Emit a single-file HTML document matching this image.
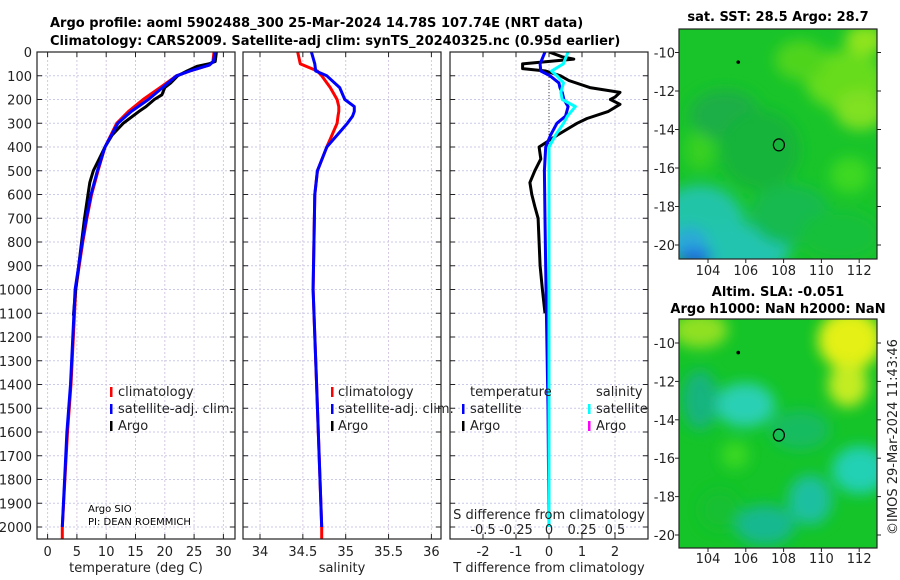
<!DOCTYPE html>
<html><head><meta charset="utf-8">
<style>
body{margin:0;background:#fff;}
svg{display:block;font-family:"DejaVu Sans","Liberation Sans",sans-serif;}
.t{font-size:13px;fill:#222;}
.b{font-size:13px;font-weight:bold;fill:#000;}
</style></head>
<body>
<svg id="fig" width="900" height="580" viewBox="0 0 900 580">
<defs>
<clipPath id="c1"><rect x="37" y="52" width="198" height="487"/></clipPath>
<clipPath id="c2"><rect x="243" y="52" width="198" height="487"/></clipPath>
<clipPath id="c3"><rect x="450" y="52" width="198" height="487"/></clipPath>
<clipPath id="m1"><rect x="679" y="29" width="198" height="230"/></clipPath>
<clipPath id="m2"><rect x="679" y="319" width="198" height="229"/></clipPath>
<filter id="bl" x="-50%" y="-50%" width="200%" height="200%"><feGaussianBlur stdDeviation="7"/></filter>
</defs>
<g id="grid"></g>
<g id="maps"></g>
<g id="series"></g>
<g id="axes"></g>
<g id="txt"></g>
</svg>
<script>
// ---- data ----
const depthTicks=[0,100,200,300,400,500,600,700,800,900,1000,1100,1200,1300,1400,1500,1600,1700,1800,1900,2000];
const tempTicks=[0,5,10,15,20,25,30];
const salTicks=[34,34.5,35,35.5,36];
const tdiffTicks=[-2,-1,0,1,2];
const sdiffTicks=[-0.5,-0.25,0,0.25,0.5];
const sdiffLabels=["-0.5","-0.25","0","0.25","0.5"];
const lonTicks=[104,106,108,110,112];
const latTicks=[-10,-12,-14,-16,-18,-20];

const climDepth=[0,40,55,80,100,150,200,250,300,400,500,600,700,800,900,1000,1400,1600,2000,2050];
const climTemp=[28.4,28.2,27.6,24.3,22,19.2,16.3,13.8,11.8,9.8,8.6,7.5,6.7,6.0,5.4,4.8,4.0,3.4,2.5,2.5];
const satTemp=[28.6,28.3,27.6,24.3,22,19.6,17.2,14.3,12,9.8,8.5,7.4,6.6,5.9,5.3,4.7,3.9,3.3,2.5,2.5];
const argoDepth=[0,40,50,60,80,100,130,150,180,200,230,250,300,350,400,450,500,550,600,700,800,900,1000,1110];
const argoTemp=[28.8,28.6,27.5,25.5,23.8,22.2,21,20,19.5,18.2,16.8,15.6,12.9,11,9.8,8.8,7.8,7.2,6.9,6.3,5.8,5.3,4.8,4.4];

const salDepth=[0,50,80,100,150,200,230,250,270,300,400,500,600,1000,1400,2000,2050];
const climSal=[34.44,34.47,34.67,34.72,34.82,34.9,34.92,34.92,34.91,34.9,34.78,34.67,34.64,34.62,34.66,34.72,34.72];
const satSal=[34.6,34.64,34.65,34.78,34.93,34.99,35.1,35.1,35.08,35.02,34.78,34.67,34.64,34.62,34.66,34.72,34.72];

const diffDepth=[0,50,80,100,130,150,170,200,230,270,300,350,400,500,700,1000,1500,2000];
const satTdiff=[-0.12,-0.27,-0.25,0.03,0.3,0.33,0.4,0.45,0.58,0.5,0.24,0.05,-0.1,-0.14,-0.12,-0.09,-0.03,0];
const satSdiff=[0.145,0.108,0.02,0.06,0.11,0.1,0.09,0.1,0.2,0.14,0.11,0.05,0,0,0,0,0,0];
const argoDiffDepth=[0,20,30,50,70,80,100,120,150,170,190,200,220,250,280,300,350,400,450,500,550,600,650,700,800,900,1000,1100];
const argoTdiff=[0,0.4,0.75,-0.8,-0.8,-0.1,0.35,0.6,1.24,2.15,2.0,1.86,2.15,1.8,1.15,0.85,0.25,-0.3,-0.25,-0.43,-0.58,-0.52,-0.43,-0.33,-0.3,-0.27,-0.2,-0.12];

// ---- scales ----
const yD=d=>52+d*0.2375;
const xT=v=>47.6+v*5.86;
const xS=v=>260+(v-34)*85.7;
const xTD=v=>549+v*33;
const xSD=v=>549+v*132;
const xLon=v=>708+(v-104)*18.9;
const yLat1=v=>52.5+(-10-v)*19.25;
const yLat2=v=>343+(-10-v)*19.2;

const NS="http://www.w3.org/2000/svg";
function mk(tag,attrs,parent){const e=document.createElementNS(NS,tag);for(const k in attrs)e.setAttribute(k,attrs[k]);parent.appendChild(e);return e;}
const G=document.getElementById('grid'),S=document.getElementById('series'),A=document.getElementById('axes'),TX=document.getElementById('txt'),M=document.getElementById('maps');

const panels=[{x:37,w:198},{x:243,w:198},{x:450,w:198}];
panels.forEach((p,i)=>{
  depthTicks.forEach(d=>{const l=mk('line',{x1:p.x,x2:p.x+p.w,y1:yD(d),y2:yD(d),stroke:'#c9c9ea','stroke-width':1,'stroke-dasharray':'2,2'},G);
    
    
    mk('line',{x1:p.x,x2:p.x+5,y1:yD(d),y2:yD(d),stroke:'#222'},A);
    mk('line',{x1:p.x+p.w-5,x2:p.x+p.w,y1:yD(d),y2:yD(d),stroke:'#222'},A);});
  const fx=[xT,xS,xTD][i],tk=[tempTicks,salTicks,tdiffTicks][i];
  tk.forEach(v=>{const l=mk('line',{x1:fx(v),x2:fx(v),y1:52,y2:539,stroke:'#d6c8e0','stroke-width':1,'stroke-dasharray':'2,2'},G);
    
    
    mk('line',{x1:fx(v),x2:fx(v),y1:539,y2:534,stroke:'#222'},A);mk('line',{x1:fx(v),x2:fx(v),y1:52,y2:57,stroke:'#222'},A);
    const t=mk('text',{x:fx(v),y:556,'text-anchor':'middle',class:'t'},TX);t.textContent=String(v);
    
    });
  const r=mk('rect',{x:p.x,y:52,width:p.w,height:487,fill:'none',stroke:'#222','stroke-width':1.2},A);
  
  
});
depthTicks.forEach(d=>{const t=mk('text',{x:32,y:yD(d)+5,'text-anchor':'end',class:'t'},TX);t.textContent=d;
  
  });
sdiffTicks.forEach((v,i)=>{const t=mk('text',{x:xSD(v),y:534,'text-anchor':'middle',class:'t'},TX);t.textContent=sdiffLabels[i];
  
  });
const zl=mk('line',{x1:xTD(0),x2:xTD(0),y1:yD(80),y2:yD(400),stroke:'#444','stroke-dasharray':'1,2'},S);



function line(xs,ds,fx,color,w,clip,name){
  const pts=xs.map((v,i)=>fx(v).toFixed(1)+','+yD(ds[i]).toFixed(1)).join(' ');
  const p=mk('polyline',{points:pts,fill:'none',stroke:color,'stroke-width':w,'stroke-linejoin':'round','clip-path':'url(#'+clip+')'},S);
  
  
}
line(climTemp,climDepth,xT,'#f00',3,'c1','temp-climatology-line');
line(argoTemp,argoDepth,xT,'#000',3,'c1','temp-argo-line');
line(satTemp.slice(0,-1),climDepth.slice(0,-1),xT,'#00f',3,'c1','temp-satellite-line');
line(climSal,salDepth,xS,'#f00',3,'c2','sal-climatology-line');
line(satSal.slice(0,-1),salDepth.slice(0,-1),xS,'#00f',3,'c2','sal-satellite-line');
line(argoTdiff,argoDiffDepth,xTD,'#000',3,'c3','tdiff-argo-line');
line(satTdiff,diffDepth,xTD,'#00f',3,'c3','tdiff-satellite-line');
line(satSdiff,diffDepth,xSD,'#0ff',3,'c3','sdiff-satellite-line');

// maps
function map(clip,y0,h,blobs,base){
  const g=mk('g',{'clip-path':'url(#'+clip+')'},M);
  mk('rect',{x:679,y:y0,width:198,height:h,fill:base},g);
  const gb=mk('g',{filter:'url(#bl)'},g);
  blobs.forEach(b=>mk('ellipse',{cx:b[0],cy:b[1],rx:b[2],ry:b[3],fill:b[4]},gb));
  return g;
}
const g1=map('m1',29,230,[
 [845,80,40,30,'#66dc1c'],[860,110,25,20,'#80e020'],[800,60,25,20,'#50d41e'],[865,40,20,15,'#90e41e'],
 [850,175,20,18,'#3ed822'],[700,150,15,20,'#38d024'],
 [725,115,35,25,'#1cae46'],[760,150,40,40,'#18b43a'],
 [700,225,45,40,'#22c4a8'],[740,250,50,25,'#22c4b0'],[690,245,18,18,'#2aa8d8'],[695,258,18,8,'#1a5ee0'],
 [790,215,40,30,'#18ba50'],[840,235,40,25,'#16c03a']],'#18c42a');


const g2=map('m2',319,229,[
 [850,340,32,30,'#e4f018'],[848,385,20,22,'#c4ec20'],[700,330,28,18,'#90e020'],
 [745,405,30,22,'#2ad0b4'],[700,400,18,30,'#18b47e'],
 [860,470,28,24,'#22d0b4'],[810,500,22,25,'#1ac0a0'],[765,525,30,20,'#18b890'],
 [735,455,14,14,'#3ad820'],[800,430,30,20,'#14bc60'],[720,510,20,20,'#14c030']],'#14c428');


[[29,230,yLat1,275,'m1'],[319,229,yLat2,563,'m2']].forEach(m=>{
  const fr=mk('rect',{x:679,y:m[0],width:198,height:m[1],fill:'none',stroke:'#222','stroke-width':1.2},A);
  
  
  lonTicks.forEach(v=>{mk('line',{x1:xLon(v),x2:xLon(v),y1:m[0]+m[1],y2:m[0]+m[1]+4,stroke:'#222'},A);
    const t=mk('text',{x:xLon(v),y:m[3],'text-anchor':'middle',class:'t'},TX);t.textContent=v;
    
    });
  latTicks.forEach(v=>{mk('line',{x1:675,x2:679,y1:m[2](v),y2:m[2](v),stroke:'#222'},A);
    mk('line',{x1:877,x2:881,y1:m[2](v),y2:m[2](v),stroke:'#222'},A);
    const t=mk('text',{x:675,y:m[2](v)+5,'text-anchor':'end',class:'t'},TX);t.textContent=v;
    
    });
  const c=mk('ellipse',{cx:xLon(107.75),cy:m[2](-14.8),rx:5.5,ry:6,fill:'none',stroke:'#000','stroke-width':1.2},A);
  
  
  mk('circle',{cx:xLon(105.6),cy:m[2](-10.5),r:1.8,fill:'#000'},A);
});
</script>
<div style="position:absolute;left:0;top:0;width:900px;height:580px;pointer-events:none;">
<svg width="900" height="580" style="font-family:'DejaVu Sans','Liberation Sans',sans-serif;">
<text x="50" y="27" class="b">Argo profile: aoml 5902488_300 25-Mar-2024 14.78S 107.74E (NRT data)</text>
<text x="50" y="45" class="b">Climatology: CARS2009. Satellite-adj clim: synTS_20240325.nc (0.95d earlier)</text>
<text x="778" y="21" text-anchor="middle" class="b">sat. SST: 28.5 Argo: 28.7</text>
<text x="778" y="296" text-anchor="middle" class="b">Altim. SLA: -0.051</text>
<text x="778" y="313" text-anchor="middle" class="b">Argo h1000: NaN h2000: NaN</text>
<text x="136" y="572" text-anchor="middle" class="t">temperature (deg C)</text>
<text x="342" y="572" text-anchor="middle" class="t">salinity</text>
<text x="549" y="572" text-anchor="middle" class="t">T difference from climatology</text>
<text x="549" y="519" text-anchor="middle" class="t">S difference from climatology</text>
<text x="88" y="512" style="font-size:10px">Argo SIO</text>
<text x="88" y="525" style="font-size:10px">PI: DEAN ROEMMICH</text>
<g>
<rect x="110" y="387" width="2.5" height="10" fill="#f00"/><text x="118" y="396" class="t">climatology</text>
<rect x="110" y="404" width="2.5" height="10" fill="#00f"/><text x="118" y="413" class="t">satellite-adj. clim.</text>
<rect x="110" y="421" width="2.5" height="10" fill="#000"/><text x="118" y="430" class="t">Argo</text>
</g>
<g>
<rect x="331" y="387" width="2.5" height="10" fill="#f00"/><text x="338" y="396" class="t">climatology</text>
<rect x="331" y="404" width="2.5" height="10" fill="#00f"/><text x="338" y="413" class="t">satellite-adj. clim.</text>
<rect x="331" y="421" width="2.5" height="10" fill="#000"/><text x="338" y="430" class="t">Argo</text>
</g>
<g>
<text x="470" y="396" class="t">temperature</text>
<text x="596" y="396" class="t">salinity</text>
<rect x="462" y="404" width="2.5" height="10" fill="#00f"/><text x="470" y="413" class="t">satellite</text>
<rect x="462" y="421" width="2.5" height="10" fill="#000"/><text x="470" y="430" class="t">Argo</text>
<rect x="588" y="404" width="2.5" height="10" fill="#0ff"/><text x="596" y="413" class="t">satellite</text>
<rect x="588" y="421" width="2.5" height="10" fill="#f0f"/><text x="596" y="430" class="t">Argo</text>
</g>
<text transform="translate(897,437) rotate(-90)" text-anchor="middle" class="t">©IMOS 29-Mar-2024 11:43:46</text>
</svg></div>
</body></html>
